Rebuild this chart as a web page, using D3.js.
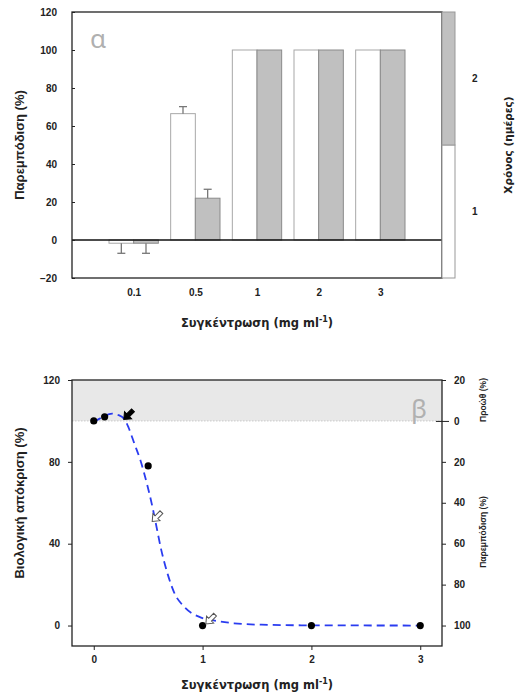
<!DOCTYPE html>
<html><head><meta charset="utf-8">
<script src="https://cdn.jsdelivr.net/npm/d3@7"></script>
<style>
body{margin:0;background:#fff;}
svg{display:block;}
.tk{font-family:"Liberation Sans",Arial,sans-serif;font-weight:bold;font-size:10px;fill:#222;}
</style></head>
<body>
<svg id="c" width="520" height="694"></svg>
<script>
// ---- Panel α data ----
const concCats = ["0.1", "0.5", "1", "2", "3"];
const day1Vals = [-1.7, 66.5, 100, 100, 100];
const day1Err  = [5.3, 3.7, 0, 0, 0];
const day2Vals = [-1.7, 22, 100, 100, 100];
const day2Err  = [5.3, 4.7, 0, 0, 0];
const topTicks = [-20, 0, 20, 40, 60, 80, 100, 120];
const legendDays = ["1", "2"];

// ---- Panel β data ----
const doseX = [0, 0.1, 0.5, 1, 2, 3];
const doseY = [100, 102, 78, 0, 0, 0];
const curveX = [0, 0.05, 0.1, 0.17, 0.22, 0.28, 0.32, 0.37, 0.43, 0.49, 0.54, 0.57, 0.62, 0.68, 0.74, 0.83, 0.98, 1.1, 1.29, 1.54, 2, 3];
const curveY = [99.5, 101, 102.5, 103.6, 103, 101, 96.7, 89.4, 80.5, 69, 57.8, 50, 37, 25, 16, 9.2, 4, 2.5, 1.1, 0.4, 0.1, 0];
const arrowX = [0.276, 0.537, 1.03];
const arrowY = [100.7, 50.9, 0.8];
const arrowKind = ["filled", "open", "open"];
const botXTicks = [0, 1, 2, 3];
const botYTicks = [0, 40, 80, 120];
const rightTicks = [120, 100, 80, 60, 40, 20, 0];

const svg = d3.select("#c");
const boldSans = '"DejaVu Sans",Verdana,sans-serif';
const arialB = '"Liberation Sans",Arial,sans-serif';

// ================= Panel α =================
{
  const L = 72, R = 442, T = 12, B = 278;
  const x = d3.scalePoint().domain(concCats).range([L, R]).padding(1);
  const y = d3.scaleLinear().domain([-20, 120]).range([B, T]);
  const bw = x.step() * 0.4;
  const g = svg.append("g");

  const bars = concCats.map((c, i) => ({c, v1: day1Vals[i], e1: day1Err[i], v2: day2Vals[i], e2: day2Err[i]}));
  bars.forEach(d => {
    g.append("rect").attr("x", x(d.c) - bw).attr("width", bw)
      .attr("y", y(Math.max(0, d.v1))).attr("height", Math.abs(y(d.v1) - y(0)))
      .attr("fill", "#fff").attr("stroke", "#a8a8a8").attr("stroke-width", 1);
    g.append("rect").attr("x", x(d.c)).attr("width", bw)
      .attr("y", y(Math.max(0, d.v2))).attr("height", Math.abs(y(d.v2) - y(0)))
      .attr("fill", "#c0c0c0").attr("stroke", "#8a8a8a").attr("stroke-width", 1);
    [[x(d.c) - bw / 2, d.v1, d.e1], [x(d.c) + bw / 2, d.v2, d.e2]].forEach(([cx, v, e]) => {
      if (e <= 0) return;
      const end = v < 0 ? v - e : v + e;
      g.append("line").attr("x1", cx).attr("x2", cx).attr("y1", y(v)).attr("y2", y(end))
        .attr("stroke", "#777").attr("stroke-width", 1.3);
      g.append("line").attr("x1", cx - 4).attr("x2", cx + 4).attr("y1", y(end)).attr("y2", y(end))
        .attr("stroke", "#777").attr("stroke-width", 1.3);
    });
  });

  g.append("line").attr("x1", L).attr("x2", R).attr("y1", y(0)).attr("y2", y(0))
    .attr("stroke", "#111").attr("stroke-width", 1.3);

  g.append("rect").attr("x", L).attr("y", T).attr("width", R - L).attr("height", B - T)
    .attr("fill", "none").attr("stroke", "#222").attr("stroke-width", 1.3);

  const ya = g.append("g").attr("transform", `translate(${L},0)`)
    .call(d3.axisLeft(y).tickValues(topTicks).tickSize(0).tickPadding(15));
  ya.select(".domain").remove();
  ya.selectAll("text").attr("class", "tk").attr("font-size", null).attr("font-family", null);
  ya.selectAll(".tick").append("line").attr("x1", 0).attr("x2", 3).attr("stroke", "#222");

  const xa = g.append("g").attr("transform", `translate(0,${B})`)
    .call(d3.axisBottom(x).tickSize(0).tickPadding(11));
  xa.select(".domain").remove();
  xa.selectAll("text").attr("class", "tk").attr("font-size", null).attr("font-family", null);

  g.append("text").attr("transform", `translate(24,145) rotate(-90)`).attr("text-anchor", "middle")
    .attr("font-family", arialB).attr("font-weight", "bold").attr("font-size", 13).attr("fill", "#222")
    .text("Παρεμπόδιση (%)");
  const xt = g.append("text").attr("x", 257).attr("y", 327).attr("text-anchor", "middle")
    .attr("font-family", boldSans).attr("font-weight", "bold").attr("font-size", 11.5).attr("fill", "#222");
  xt.append("tspan").text("Συγκέντρωση (mg ml");
  xt.append("tspan").attr("dy", -5).attr("font-size", 8).text("-1");
  xt.append("tspan").attr("dy", 5).text(")");

  g.append("text").attr("x", 90).attr("y", 48).attr("font-family", '"Noto Sans",sans-serif')
    .attr("font-size", 26).attr("fill", "#b0b0b0").text("α");

  // legend bar (days)
  const ly = d3.scaleBand().domain(legendDays.slice().reverse()).range([T, B]);
  const lg = g.append("g");
  legendDays.forEach(dd => {
    lg.append("rect").attr("x", R).attr("width", 13).attr("y", ly(dd)).attr("height", ly.bandwidth())
      .attr("fill", dd === "2" ? "#c0c0c0" : "#fff").attr("stroke", "#999").attr("stroke-width", 1);
    lg.append("text").attr("class", "tk").attr("x", 472).attr("y", ly(dd) + ly.bandwidth() / 2 + 3.5)
      .text(dd);
  });
  g.append("text").attr("transform", `translate(512,145) rotate(-90)`).attr("text-anchor", "middle")
    .attr("font-family", boldSans).attr("font-weight", "bold").attr("font-size", 10.5).attr("fill", "#222")
    .text("Χρόνος (ημέρες)");
}

// ================= Panel β =================
{
  const L = 72, R = 442, T = 380, B = 646;
  const x = d3.scaleLinear().domain([-0.2, 3.2]).range([L, R]);
  const y = d3.scaleLinear().domain([-10, 120]).range([B, T]);
  const g = svg.append("g");

  g.append("rect").attr("x", L).attr("y", y(120)).attr("width", R - L).attr("height", y(100) - y(120))
    .attr("fill", "#e8e8e8");
  g.append("line").attr("x1", L).attr("x2", R).attr("y1", y(100)).attr("y2", y(100))
    .attr("stroke", "#c8c8c8").attr("stroke-width", 1).attr("stroke-dasharray", "1.5,1.5");

  g.append("text").attr("x", 411).attr("y", 418).attr("font-family", '"Noto Sans",sans-serif')
    .attr("font-size", 26).attr("fill", "#b0b0b0").text("β");

  const line = d3.line().x(d => x(d[0])).y(d => y(d[1])).curve(d3.curveMonotoneX);
  g.append("path").datum(curveX.map((v, i) => [v, curveY[i]])).attr("d", line)
    .attr("fill", "none").attr("stroke", "#2a3cf0").attr("stroke-width", 1.8)
    .attr("stroke-dasharray", "8,5");

  g.selectAll("circle.pt").data(doseX.map((v, i) => [v, doseY[i]])).join("circle")
    .attr("cx", d => x(d[0])).attr("cy", d => y(d[1])).attr("r", 3.6).attr("fill", "#000");

  const arrowPath = "M0,0 L6,-5 L6,-2 L13,-2 L13,2 L6,2 L6,5 Z";
  arrowX.forEach((v, i) => {
    g.append("path").attr("d", arrowPath)
      .attr("transform", `translate(${x(v)},${y(arrowY[i])}) rotate(-45)`)
      .attr("fill", arrowKind[i] === "filled" ? "#000" : "#fff")
      .attr("stroke", arrowKind[i] === "filled" ? "#000" : "#555").attr("stroke-width", 1);
  });

  g.append("rect").attr("x", L).attr("y", T).attr("width", R - L).attr("height", B - T)
    .attr("fill", "none").attr("stroke", "#222").attr("stroke-width", 1.3);

  const ya = g.append("g").attr("transform", `translate(${L},0)`)
    .call(d3.axisLeft(y).tickValues(botYTicks).tickSize(4).tickPadding(8));
  ya.select(".domain").remove();
  ya.selectAll("line").attr("stroke", "#222");
  ya.selectAll("text").attr("class", "tk").attr("font-size", null).attr("font-family", null);

  const xa = g.append("g").attr("transform", `translate(0,${B})`)
    .call(d3.axisBottom(x).tickValues(botXTicks).tickFormat(d3.format("d")).tickSize(4).tickPadding(6));
  xa.select(".domain").remove();
  xa.selectAll("line").attr("stroke", "#222");
  xa.selectAll("text").attr("class", "tk").attr("font-size", null).attr("font-family", null);

  const ra = g.append("g").attr("transform", `translate(${R},0)`)
    .call(d3.axisRight(y).tickValues(rightTicks).tickFormat(v => v >= 100 ? v - 100 : 100 - v).tickSize(4).tickPadding(8));
  ra.select(".domain").remove();
  ra.selectAll("line").attr("stroke", "#222");
  ra.selectAll(".tick").filter(v => v === 100).select("line").attr("x1", -6).attr("x2", 7);
  ra.selectAll("text").attr("class", "tk").attr("font-size", null).attr("font-family", null);

  g.append("text").attr("transform", `translate(24,503) rotate(-90)`).attr("text-anchor", "middle")
    .attr("font-family", arialB).attr("font-weight", "bold").attr("font-size", 13).attr("fill", "#222")
    .text("Βιολογική απόκριση (%)");
  const xt = g.append("text").attr("x", 257).attr("y", 689).attr("text-anchor", "middle")
    .attr("font-family", boldSans).attr("font-weight", "bold").attr("font-size", 11.5).attr("fill", "#222");
  xt.append("tspan").text("Συγκέντρωση (mg ml");
  xt.append("tspan").attr("dy", -5).attr("font-size", 8).text("-1");
  xt.append("tspan").attr("dy", 5).text(")");

  g.append("text").attr("transform", `translate(486,400) rotate(-90)`).attr("text-anchor", "middle")
    .attr("font-family", arialB).attr("font-weight", "bold").attr("font-size", 8.5).attr("fill", "#222")
    .text("Προώθ (%)");
  g.append("text").attr("transform", `translate(486,532) rotate(-90)`).attr("text-anchor", "middle")
    .attr("font-family", arialB).attr("font-weight", "bold").attr("font-size", 8.5).attr("fill", "#222")
    .text("Παρεμπόδιση (%)");
}
</script>
</body></html>
